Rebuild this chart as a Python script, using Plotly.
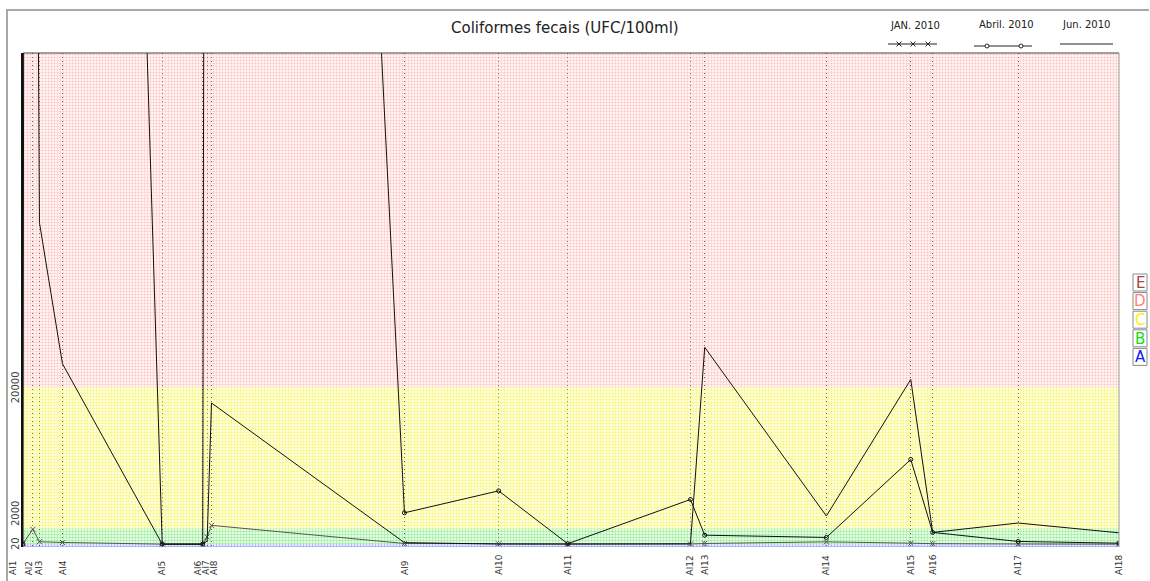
import plotly.graph_objects as go

# Monitoring stations along the river and their distance (km)
stations = ["Al1", "Al2", "Al3", "Al4", "Al5", "Al6", "Al7", "Al8", "Al9",
            "Al10", "Al11", "Al12", "Al13", "Al14", "Al15", "Al16", "Al17", "Al18"]
station_km = [0.0, 0.9, 1.5, 3.6, 12.7, 16.4, 16.8, 17.2, 34.8,
              43.4, 49.7, 60.9, 62.2, 73.3, 81.0, 83.0, 90.8, 100.0]

# Fecal coliforms (UFC/100ml) per campaign
jan_2010 = [90, 1900, 320, 220, 10, 10, 930, 2400, 90,
            40, 10, 30, 90, 300, 130, 70, 30, 5]
abril_2010 = [20, 1000000, 700000, 414000, 10, 10, 300000, 497000, 4000,
              6800, 60, 5700, 1150, 860, 10800, 1500, 350, 130]
jun_2010 = [250000, 190000, 41000, 23000, 10, 10, 400, 18000, 200,
            20, 10, 50, 25100, 3600, 21000, 1500, 2700, 1450]

# Quality classes and their limits
class_names = ["A", "B", "C", "D", "E"]
class_limits = [20, 2000, 20000]
y_tick_vals = [20, 2000, 20000]
y_tick_text = ["20", "2000", "20000"]

W, H = 1150, 581
ML, MR, MT, MB = 23, 31, 53, 34
PW, PH = W - ML - MR, H - MT - MB
Y_RANGE = [-357, 62613]
X_RANGE = [0, 100]


def px(xp):
    return (xp - ML) / PW


def py(yp):
    return (H - MB - yp) / PH


FONT = "DejaVu Sans"
fig = go.Figure()

# class bands (dotted screen fill)
band_colors = ["#3344ff", "#33dd33", "#f2f200", "#ff9a9a"]
band_edges = [Y_RANGE[0]] + class_limits + [Y_RANGE[1]]
for i, col in enumerate(band_colors):
    lo, hi = band_edges[i], band_edges[i + 1]
    fig.add_trace(go.Scatter(
        x=[X_RANGE[0], X_RANGE[1], X_RANGE[1], X_RANGE[0]],
        y=[lo, lo, hi, hi], mode="lines", fill="toself",
        fillcolor="rgba(0,0,0,0)", line=dict(width=0),
        fillpattern=dict(shape=".", fgcolor=col, bgcolor="rgba(0,0,0,0)",
                         size=3, solidity=0.5),
        hoverinfo="skip", showlegend=False))

# campaign series
fig.add_trace(go.Scatter(
    x=station_km, y=jan_2010, mode="lines+markers", name="JAN. 2010",
    line=dict(color="#555555", width=1),
    marker=dict(symbol="x-thin-open", size=5, line=dict(color="#333333", width=1)),
    showlegend=False))
fig.add_trace(go.Scatter(
    x=station_km, y=abril_2010, mode="lines+markers", name="Abril. 2010",
    line=dict(color="#111111", width=1),
    marker=dict(symbol="circle-open", size=4, line=dict(color="#111111", width=1)),
    showlegend=False))
fig.add_trace(go.Scatter(
    x=station_km, y=jun_2010, mode="lines", name="Jun. 2010",
    line=dict(color="#111111", width=1), showlegend=False))

fig.update_layout(
    width=W, height=H,
    margin=dict(l=ML, r=MR, t=MT, b=MB, pad=0),
    paper_bgcolor="white", plot_bgcolor="white",
    font=dict(family=FONT, size=10, color="#333333"),
    showlegend=False,
    xaxis=dict(range=X_RANGE, tickvals=station_km, showticklabels=False,
               ticks="", showgrid=True, gridcolor="#555555", gridwidth=1,
               griddash="1px,3px", zeroline=False, showline=False, fixedrange=True),
    yaxis=dict(range=Y_RANGE, showticklabels=False, ticks="", showgrid=False,
               zeroline=False, showline=True, linecolor="#111111", linewidth=2,
               fixedrange=True),
)

shapes = []
ann = []

# outer frame (top and left)
shapes.append(dict(type="line", xref="paper", yref="paper",
                   x0=px(6), x1=px(1149), y0=py(10), y1=py(10),
                   line=dict(color="#a8a8a8", width=2)))
shapes.append(dict(type="line", xref="paper", yref="paper",
                   x0=px(7), x1=px(7), y0=py(10), y1=py(582),
                   line=dict(color="#a8a8a8", width=2)))
# plot box: top and right
shapes.append(dict(type="line", xref="paper", yref="paper",
                   x0=0, x1=1, y0=1, y1=1, line=dict(color="#444444", width=1)))
shapes.append(dict(type="line", xref="paper", yref="paper",
                   x0=1, x1=1, y0=0, y1=1, line=dict(color="#9a9a9a", width=1)))


def text_at(text, x, y, size, color, **kw):
    d = dict(text=text, xref="paper", yref="paper", x=x, y=y, showarrow=False,
             xanchor="center", yanchor="middle",
             font=dict(family=FONT, size=size, color=color))
    d.update(kw)
    return d


# title
ann.append(text_at("Coliformes fecais (UFC/100ml)", px(565), py(28), 15, "#222222"))

# campaign legend (text above a line sample)
leg = [
    ("JAN. 2010", 915, 26, 888, 937, 44, "x"),
    ("Abril. 2010", 1006, 24, 974, 1032, 46, "o"),
    ("Jun. 2010", 1086, 24, 1060, 1113, 44, None),
]
for text, tx, ty, lx0, lx1, ly, mk in leg:
    ann.append(text_at(text, px(tx), py(ty), 10, "#222222"))
    shapes.append(dict(type="line", xref="paper", yref="paper",
                       x0=px(lx0), x1=px(lx1), y0=py(ly), y1=py(ly),
                       line=dict(color="#222222", width=1)))
    if mk == "x":
        for mx in (899, 913, 928):
            for d in (1, -1):
                shapes.append(dict(type="line", xref="paper", yref="paper",
                                   x0=px(mx - 2.5), x1=px(mx + 2.5),
                                   y0=py(ly - 2.5 * d), y1=py(ly + 2.5 * d),
                                   line=dict(color="#222222", width=1)))
    elif mk == "o":
        for mx in (987, 1021):
            shapes.append(dict(type="circle", xref="paper", yref="paper",
                               x0=px(mx - 2), x1=px(mx + 2),
                               y0=py(ly - 2), y1=py(ly + 2),
                               fillcolor="white", line=dict(color="#222222", width=1)))

# class key on the right
class_colors = {"E": "#a04848", "D": "#ff7f7f", "C": "#f5f500", "B": "#11dd11", "A": "#1020ff"}
box_top = 274
for i, name in enumerate(reversed(class_names)):
    y0 = box_top + i * 18.6
    shapes.append(dict(type="rect", xref="paper", yref="paper",
                       x0=px(1133), x1=px(1147), y0=py(y0 + 17), y1=py(y0),
                       fillcolor="white", line=dict(color="#8a8a8a", width=1)))
    ann.append(text_at(name, px(1140), py(y0 + 8.7), 15, class_colors[name]))

# y tick labels (rotated)
ylab_anchor = {"20": "middle", "2000": "bottom", "20000": "middle"}
for v, t in zip(y_tick_vals, y_tick_text):
    ann.append(text_at(t, px(15), v, 10, "#444444", yref="y", textangle=-90,
                       yanchor=ylab_anchor[t]))

# station labels (rotated, nudged where crowded)
label_nudge = {"Al1": -10, "Al2": -3.5, "Al3": -0.5, "Al6": -5, "Al7": -1.5, "Al8": 2}
for s, km in zip(stations, station_km):
    ann.append(text_at(s, km, py(577), 9, "#333333", xref="x", textangle=-90,
                       yanchor="bottom", xshift=label_nudge.get(s, 0)))

fig.update_layout(shapes=shapes, annotations=ann)
fig.write_html("out.html")
